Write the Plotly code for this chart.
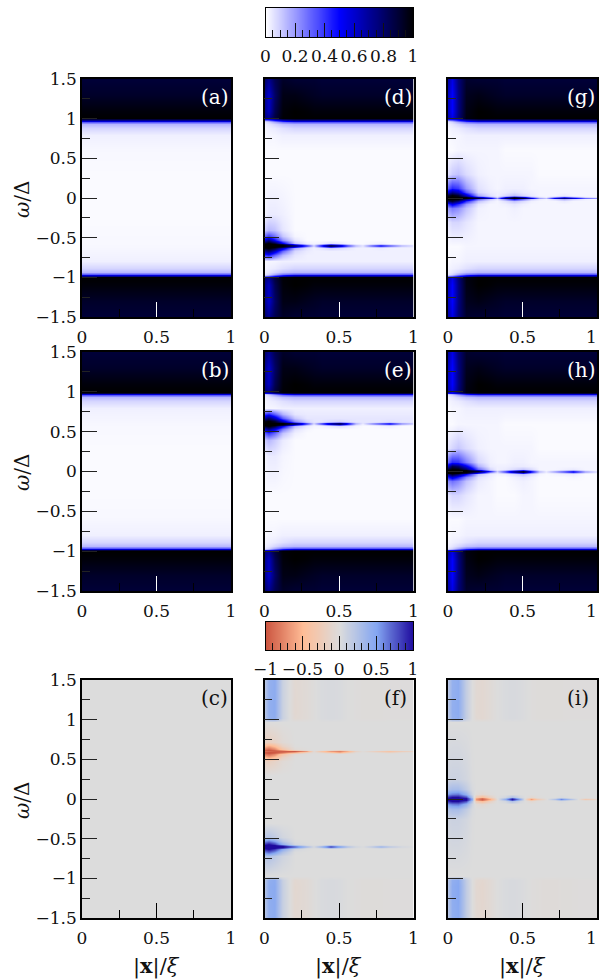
import plotly.graph_objects as go

# ---------- data (values in percent) ----------
X = [0,.03,.07,.12,.2,.28,.33,.38,.44,.5,.56,.61,.66,.72,.78,.84,.92,1]
OUTER_W = [.8,.88,.93,.96,.975,.99,1.0,1.1,1.3,1.5]
BG = [0,1]
A_W = [0,.3,.6,.8,.88,.93,.96,.975,.99,1.0,1.1,1.3,1.5]
a_half = [1,1,1.5,3,8,14,32,58,88,100,98,92,89]

outer_weak = [
 [1,2,2,3,3,3,3,3,3,3,3,3,3,3,3,3,3,3],
 [2,3,4,6,8,8,8,8,8,8,8,8,8,8,8,8,8,8],
 [3,5,8,12,14,14,14,14,14,14,14,14,14,14,14,14,14,14],
 [5,8,16,26,32,32,32,32,32,32,32,32,32,32,32,32,32,32],
 [10,16,30,46,58,58,58,58,58,58,58,58,58,58,58,58,58,58],
 [50,55,68,82,88,88,88,88,88,88,88,88,88,88,88,88,88,88],
 [76,72,88,99,100,100,100,100,100,100,100,100,100,100,100,100,100,100],
 [72,62,84,98,100,99,98,98,98,98,98,98,98,98,98,98,98,98],
 [72,60,80,96,96,94,93,92,92,92,92,92,92,92,92,92,92,92],
 [80,72,84,92,90,90,90,89,89,89,89,89,89,89,89,89,89,89],
]
outer_strong = [
 [1,2,2,3,3,3,3,3,3,3,3,3,3,3,3,3,3,3],
 [2,3,4,6,8,8,8,8,8,8,8,8,8,8,8,8,8,8],
 [3,5,8,12,14,14,14,14,14,14,14,14,14,14,14,14,14,14],
 [5,8,16,26,32,32,32,32,32,32,32,32,32,32,32,32,32,32],
 [10,16,30,46,58,58,58,58,58,58,58,58,58,58,58,58,58,58],
 [48,50,62,80,88,88,88,88,88,88,88,88,88,88,88,88,88,88],
 [66,55,76,97,100,100,100,100,100,100,100,100,100,100,100,100,100,100],
 [62,50,74,96,100,99,98,98,98,98,98,98,98,98,98,98,98,98],
 [62,50,74,94,96,94,93,92,92,92,92,92,92,92,92,92,92,92],
 [68,55,76,91,90,90,90,89,89,89,89,89,89,89,89,89,89,89],
]

d_y = [-.72,-.67,-.635,-.615,-.607,-.6,-.593,-.585,-.565,-.53,-.48,-.4,-.2,.3,.6]
d_mid = [
 [40,45,30,14,5,3,3,3,3,3,3,3,3,3,3,3,3,3],
 [70,80,60,30,8,4,3,3,3,3,3,3,3,3,3,3,3,3],
 [95,100,90,60,16,6,3,5,9,7,5,3,3,3,4,3,3,3],
 [100,100,100,88,48,14,4,20,42,28,14,6,4,9,14,9,5,4],
 [100,100,100,100,74,34,8,42,82,58,30,11,5,24,40,26,11,6],
 [90,96,100,100,95,60,20,75,100,92,62,30,14,52,70,54,32,22],
 [100,100,100,100,74,34,8,42,82,58,30,11,5,24,40,26,11,6],
 [100,100,100,88,42,12,4,16,36,24,11,4,2,7,12,7,3,2],
 [92,100,88,52,11,3,2,3,6,4,2,1,1,2,3,1,1,1],
 [60,75,50,22,5,1,1,1,1,1,1,1,1,1,1,1,1,1],
 [30,38,28,11,2,1,1,1,1,1,1,1,1,1,1,1,1,1],
 [10,14,12,5,1,1,1,1,1,1,1,1,1,1,1,1,1,1],
 [2,4,4,3,1,1,1,1,1,1,1,1,1,1,1,1,1,1],
 [1,1,1,1,1,1,1,1,1,1,1,1,1,1,1,1,1,1],
 [1,1,1,1,1,1,1,1,1,1,1,1,1,1,1,1,1,1],
]

e_y = [-.6,-.3,.2,.4,.48,.53,.565,.585,.593,.6,.607,.615,.635,.67,.72]
e_mid = [
 [1,1,1,1,1,1,1,1,1,1,1,1,1,1,1,1,1,1],
 [1,1,1,1,1,1,1,1,1,1,1,1,1,1,1,1,1,1],
 [2,4,4,2,1,1,1,1,1,1,1,1,1,1,1,1,1,1],
 [10,14,10,4,1,1,1,1,1,1,1,1,1,1,1,1,1,1],
 [32,40,30,12,3,1,1,1,1,1,1,1,1,1,1,1,1,1],
 [62,75,55,26,6,2,1,1,1,1,1,1,1,1,1,1,1,1],
 [92,100,88,52,13,4,2,2,4,6,4,2,1,1,2,3,1,1],
 [100,100,100,88,42,12,3,9,22,34,18,5,2,4,8,12,5,2],
 [100,100,100,100,76,32,6,30,60,78,44,12,3,16,28,40,16,8],
 [88,95,100,100,98,68,18,58,90,100,82,32,10,32,54,70,48,28],
 [100,100,100,100,78,34,8,32,62,80,46,14,5,18,30,42,18,10],
 [100,100,100,90,48,16,6,12,26,38,22,8,5,7,11,15,8,6],
 [95,100,90,60,22,8,5,5,7,8,6,5,5,5,5,6,5,5],
 [70,80,62,32,11,5,5,5,5,5,5,5,5,5,5,5,5,5],
 [38,45,32,15,5,4,4,4,4,4,4,4,4,4,4,4,4,4],
]

g_y = [-.6,-.3,-.12,-.07,-.035,-.015,-.007,0,.007,.015,.035,.07,.12,.3,.6]
g_mid = [
 [1,1,1,2,2,2,2,2,2,2,2,2,2,2,2,2,2,2],
 [5,8,8,5,2,2,2,2,2,2,2,2,2,2,2,2,2,2],
 [20,26,22,12,3,2,2,2,3,2,2,2,2,2,2,2,2,2],
 [40,55,42,20,5,2,2,3,5,3,2,2,2,2,2,2,2,2],
 [80,90,75,42,12,4,2,6,12,7,3,2,2,2,4,2,2,2],
 [100,100,100,75,30,10,4,22,48,28,10,4,2,8,16,8,3,2],
 [100,100,100,95,62,28,8,48,88,60,26,8,4,24,42,26,9,5],
 [90,95,100,100,88,58,20,78,100,92,58,20,12,54,76,56,30,20],
 [100,100,100,98,64,30,8,48,88,60,26,8,4,24,42,26,9,5],
 [100,100,100,85,36,12,5,22,46,28,10,4,2,8,15,8,3,2],
 [88,98,90,60,16,6,3,7,12,7,4,2,2,2,4,2,2,2],
 [58,72,62,33,8,4,3,4,6,4,3,2,2,2,2,2,2,2],
 [32,42,38,20,6,3,2,3,3,3,2,2,2,2,2,2,2,2],
 [6,10,12,7,3,2,2,2,2,2,2,1,1,1,1,1,1,1],
 [1,1,2,2,2,2,2,1,1,1,1,1,1,1,1,1,1,1],
]

h_mid = [
 [1,1,1,2,2,2,2,2,2,2,2,2,2,2,2,2,2,2],
 [5,8,8,5,2,2,1,1,1,2,2,1,1,1,1,1,1,1],
 [23,28,23,12,4,2,1,1,2,3,2,1,1,1,1,1,1,1],
 [45,58,45,23,6,3,1,1,3,5,3,1,1,1,1,2,1,1],
 [75,92,80,50,12,4,2,3,7,12,6,2,1,2,3,4,1,1],
 [100,100,100,88,45,10,4,12,28,46,20,5,2,5,10,16,5,2],
 [100,100,100,100,74,28,7,30,62,88,44,11,4,15,28,44,15,5],
 [90,96,100,100,98,68,20,58,90,100,76,24,12,34,56,74,42,22],
 [100,100,100,100,90,42,10,32,64,90,46,12,4,16,29,44,15,5],
 [100,100,100,100,62,16,5,13,30,46,21,5,2,5,10,16,5,2],
 [90,100,98,80,30,8,3,4,7,11,7,2,2,2,3,4,2,2],
 [62,85,78,55,16,4,3,3,4,4,3,2,2,2,2,2,2,2],
 [30,42,40,25,8,3,2,2,3,3,2,2,2,2,2,2,2,2],
 [5,8,11,7,3,2,2,2,2,2,2,1,1,1,1,1,1,1],
 [1,1,2,2,2,2,2,1,1,1,1,1,1,1,1,1,1,1],
]

f_y = [-1.5,-1.1,-1.02,-.97,-.72,-.67,-.635,-.615,-.607,-.6,-.593,-.585,-.565,-.53,-.48,-.3,
       .3,.48,.53,.565,.585,.593,.6,.607,.615,.635,.67,.72,.97,1.02,1.1,1.5]
f_z = [
 [20,42,45,12,-8,-5,-1,2,3,2,0,-1,-2,-2,-2,-1,-1,-1],
 [22,44,46,12,-9,-5,-1,2,3,2,0,-1,-2,-2,-2,-1,-1,-1],
 [20,42,45,11,-8,-5,-1,2,3,2,0,-1,-2,-2,-2,-1,-1,-1],
 [0,0,0,0,0,0,0,0,0,0,0,0,0,0,0,0,0,0],
 [20,25,18,8,0,0,0,0,0,0,0,0,0,0,0,0,0,0],
 [60,70,55,25,1,0,0,0,0,0,0,0,0,0,0,0,0,0],
 [90,100,85,45,6,1,0,0,0,0,0,0,0,0,0,0,0,0],
 [100,100,100,80,32,5,1,6,24,12,4,1,0,2,6,2,1,0],
 [100,100,100,100,64,24,4,30,72,44,18,5,1,12,28,14,4,1],
 [95,100,100,100,92,62,8,55,95,78,42,12,2,28,52,34,16,8],
 [100,100,100,100,64,24,4,30,72,44,18,5,1,12,28,14,4,1],
 [100,100,100,76,28,5,1,6,24,12,4,1,0,2,6,2,1,0],
 [88,98,82,40,5,1,0,0,0,0,0,0,0,0,0,0,0,0],
 [55,65,50,20,1,0,0,0,0,0,0,0,0,0,0,0,0,0],
 [18,22,16,6,0,0,0,0,0,0,0,0,0,0,0,0,0,0],
 [0,0,0,0,0,0,0,0,0,0,0,0,0,0,0,0,0,0],
 [0,0,0,0,0,0,0,0,0,0,0,0,0,0,0,0,0,0],
 [-16,-20,-15,-5,0,0,0,0,0,0,0,0,0,0,0,0,0,0],
 [-50,-62,-48,-18,-1,0,0,0,0,0,0,0,0,0,0,0,0,0],
 [-80,-90,-75,-36,-5,-1,0,0,0,0,0,0,0,0,0,0,0,0],
 [-92,-100,-92,-68,-30,-6,-1,-3,-10,-22,-8,-1,0,0,-1,-4,-1,0],
 [-95,-100,-98,-90,-68,-28,-3,-20,-45,-62,-34,-6,-1,-5,-12,-22,-7,-2],
 [-85,-90,-95,-95,-98,-65,-6,-38,-66,-78,-55,-16,-2,-15,-28,-38,-24,-14],
 [-95,-100,-98,-90,-68,-28,-3,-20,-45,-62,-34,-6,-1,-5,-12,-22,-7,-2],
 [-92,-100,-92,-68,-30,-6,-1,-3,-10,-22,-8,-1,0,0,-1,-4,-1,0],
 [-80,-90,-75,-36,-5,-1,0,0,0,0,0,0,0,0,0,0,0,0],
 [-50,-62,-48,-18,-1,0,0,0,0,0,0,0,0,0,0,0,0,0],
 [-16,-20,-15,-5,0,0,0,0,0,0,0,0,0,0,0,0,0,0],
 [0,0,0,0,0,0,0,0,0,0,0,0,0,0,0,0,0,0],
 [18,40,44,10,-7,-4,-1,2,3,2,0,-1,-2,-2,-2,-1,-1,-1],
 [20,42,45,10,-8,-4,-1,2,3,2,0,-1,-2,-2,-2,-1,-1,-1],
 [18,40,44,10,-7,-4,-1,2,3,2,0,-1,-2,-2,-2,-1,-1,-1],
]

iX = [0,.03,.07,.12,.16,.19,.23,.28,.33,.38,.43,.48,.52,.56,.6,.66,.72,.76,.82,.87,.92,.97,1]
i_y = [-1.5,-1.1,-1.02,-.97,-.25,-.12,-.06,-.025,-.01,0,.01,.025,.06,.12,.25,.97,1.02,1.1,1.5]
i_z = [
 [22,42,46,16,0,-7,-9,-5,0,2,3,2,1,-1,-2,-3,-3,-2,-2,-1,-1,-1,-1],
 [24,44,48,16,0,-8,-10,-5,0,2,3,2,1,-1,-2,-3,-3,-2,-2,-1,-1,-1,-1],
 [22,42,46,15,0,-7,-9,-5,0,2,3,2,1,-1,-2,-3,-3,-2,-2,-1,-1,-1,-1],
 [0,0,0,0,0,0,0,0,0,0,0,0,0,0,0,0,0,0,0,0,0,0,0],
 [8,10,10,6,1,0,0,0,0,0,0,0,0,0,0,0,0,0,0,0,0,0,0],
 [25,30,30,16,3,0,0,0,0,0,0,0,0,0,0,0,0,0,0,0,0,0,0],
 [55,62,65,40,8,-4,-8,-2,0,0,0,0,0,0,0,0,0,0,0,0,0,0,0],
 [90,100,100,80,22,-28,-48,-18,0,6,26,6,0,-8,-2,0,0,3,0,0,0,0,0],
 [100,100,100,98,38,-58,-85,-42,-1,24,78,26,-3,-36,-12,-1,8,28,8,0,-8,-5,-1],
 [92,100,100,100,45,-68,-95,-58,-4,42,98,46,-8,-66,-30,-3,26,60,28,0,-30,-20,-8],
 [100,100,100,98,38,-58,-85,-42,-1,24,78,26,-3,-36,-12,-1,8,28,8,0,-8,-5,-1],
 [90,100,100,80,22,-28,-48,-18,0,6,26,6,0,-8,-2,0,0,3,0,0,0,0,0],
 [55,62,65,40,8,-4,-8,-2,0,0,0,0,0,0,0,0,0,0,0,0,0,0,0],
 [25,30,30,16,3,0,0,0,0,0,0,0,0,0,0,0,0,0,0,0,0,0,0],
 [8,10,10,6,1,0,0,0,0,0,0,0,0,0,0,0,0,0,0,0,0,0,0],
 [0,0,0,0,0,0,0,0,0,0,0,0,0,0,0,0,0,0,0,0,0,0,0],
 [20,40,44,14,0,-6,-8,-4,0,2,3,2,1,-1,-2,-2,-2,-2,-1,-1,-1,-1,-1],
 [22,42,45,14,0,-7,-8,-4,0,2,3,2,1,-1,-2,-2,-2,-2,-1,-1,-1,-1,-1],
 [20,40,44,14,0,-6,-8,-4,0,2,3,2,1,-1,-2,-2,-2,-2,-1,-1,-1,-1,-1],
]

c_z = [[0,0],[0,0]]
cb1_vals = [0,.05,.1,.15,.2,.25,.3,.35,.4,.45,.5,.55,.6,.65,.7,.75,.8,.85,.9,.95,1]
cb2_vals = [-1,-.9,-.8,-.7,-.6,-.5,-.4,-.3,-.2,-.1,0,.1,.2,.3,.4,.5,.6,.7,.8,.9,1]
cb1_ticks = [0,.2,.4,.6,.8,1]
cb2_ticks = [-1,-.5,0,.5,1]
x_tick_vals = [0,.5,1]
x_tick_text = ["0","0.5","1"]
panel_letters = ["(a)","(b)","(c)","(d)","(e)","(f)","(g)","(h)","(i)"]

SEQ = [[0,"#ffffff"],[.5,"#0000ff"],[1,"#000000"]]
DIV = [[0,"#cc5540"],[.25,"#ffbd96"],[.5,"#dcdcdc"],[.75,"#84a6f2"],[1,"#1e0a9e"]]
FONT = "DejaVu Serif"
TSIZE = 17
W, H = 600, 979
COLS = [(82,231),(264.5,413.5),(448,597)]
ROWS = [(79,317),(352,591),(680,918)]

def outer_grid(outer, mid):
    return [r for r in outer[::-1]] + mid + [r for r in outer]
def outer_y(mid_y):
    return [-w for w in OUTER_W[::-1]] + mid_y + OUTER_W

a_y = [-w for w in A_W[:0:-1]] + A_W
a_rows = a_half[:0:-1] + a_half
a_grid = [[v, v] for v in a_rows]

panels = [
 (BG, a_y, a_grid, SEQ), (BG, a_y, a_grid, SEQ), (BG, [-1.5,1.5], c_z, DIV),
 (X, outer_y(d_y), outer_grid(outer_weak, d_mid), SEQ),
 (X, outer_y(e_y), outer_grid(outer_weak, e_mid), SEQ),
 (X, f_y, f_z, DIV),
 (X, outer_y(g_y), outer_grid(outer_strong, g_mid), SEQ),
 (X, outer_y(g_y), outer_grid(outer_strong, h_mid), SEQ),
 (iX, i_y, i_z, DIV),
]

fig = go.Figure()
layout = {}
annots = []
for n, (px, py, pz, cs) in enumerate(panels):
    c, r = n // 3, n % 3
    k = n + 1
    sfx = "" if k == 1 else str(k)
    z = [[v / 100 for v in row] for row in pz]
    fig.add_trace(go.Heatmap(x=px, y=py, z=z, colorscale=cs, zmin=0 if cs is SEQ else -1, zmax=1,
                             zsmooth="best", showscale=False, xaxis="x" + sfx, yaxis="y" + sfx))
    x0, x1 = COLS[c]; y0, y1 = ROWS[r]
    xtick = "white" if r < 2 else "black"
    # the last column's "1" sits just inside the page edge, so it is placed as its own text
    ticktext = x_tick_text if c < 2 else x_tick_text[:2] + [""]
    if c == 2:
        annots.append(dict(text=x_tick_text[2], x=599 / W, y=1 - (y1 + 19.5) / H, xref="paper", yref="paper",
                           xanchor="right", yanchor="middle", showarrow=False,
                           font=dict(family=FONT, size=TSIZE, color="#111")))
    layout["xaxis" + sfx] = dict(
        domain=[x0 / W, x1 / W], anchor="y" + sfx, range=[0, 1], tickmode="array", tickvals=x_tick_vals, ticktext=ticktext,
        automargin=False, ticklabeloverflow="allow",
        ticks="inside", ticklen=15, tickwidth=1, tickcolor=xtick, showgrid=False, zeroline=False,
        showline=True, linecolor="black", linewidth=1.5, mirror=True, ticklabelstandoff=4,
        minor=dict(ticks="inside", ticklen=8, tickwidth=1, tickcolor="black", tick0=0, dtick=.25, showgrid=False),
        tickfont=dict(family=FONT, size=TSIZE, color="#111"))
    layout["yaxis" + sfx] = dict(
        domain=[1 - y1 / H, 1 - y0 / H], anchor="x" + sfx, range=[-1.5, 1.5], tickmode="linear", tick0=-1.5, dtick=.5,
        automargin=False,
        ticks="inside", ticklen=15, tickwidth=1, tickcolor="#222", showgrid=False, zeroline=False,
        showline=True, linecolor="black", linewidth=1.5, mirror=True, showticklabels=(c == 0), ticklabelstandoff=0,
        minor=dict(ticks="inside", ticklen=8, tickwidth=1, tickcolor="#222", tick0=0, dtick=.25, showgrid=False),
        tickfont=dict(family=FONT, size=TSIZE, color="#111"))
    annots.append(dict(text=panel_letters[n], x=(x0 + 117) / W, y=1 - (y0 + 18) / H, xref="paper", yref="paper",
                       xanchor="left", yanchor="middle", showarrow=False,
                       font=dict(family=FONT, size=20, color="white" if r < 2 else "#111")))

for k, vals, cs, zmin, ticks, dminor, (ytop, ybot) in [
    (10, cb1_vals, SEQ, 0, cb1_ticks, .05, (8, 37)),
    (11, cb2_vals, DIV, -1, cb2_ticks, .1, (622, 650))]:
    fig.add_trace(go.Heatmap(x=vals, y=[0, 1], z=[vals, vals], colorscale=cs, zmin=zmin, zmax=1, zsmooth="best",
                             showscale=False, xaxis=f"x{k}", yaxis=f"y{k}"))
    layout[f"xaxis{k}"] = dict(
        domain=[265.5 / W, 413 / W], anchor=f"y{k}", range=[vals[0], vals[-1]], tickmode="array", tickvals=ticks,
        automargin=False,
        ticks="inside", ticklen=14, tickwidth=1, tickcolor="#111", showgrid=False, zeroline=False,
        showline=True, linecolor="black", linewidth=1.2, mirror=True, ticklabelstandoff=3,
        minor=dict(ticks="inside", ticklen=7, tickwidth=1, tickcolor="#111", tick0=0, dtick=dminor, showgrid=False),
        tickfont=dict(family=FONT, size=TSIZE, color="#111"))
    layout[f"yaxis{k}"] = dict(domain=[1 - ybot / H, 1 - ytop / H], anchor=f"x{k}", range=[0, 1], showticklabels=False,
                               automargin=False,
                               ticks="", showgrid=False, zeroline=False, showline=True, linecolor="black",
                               linewidth=1.2, mirror=True)

for r, cy in enumerate([199, 472, 800]):
    annots.append(dict(text="<i>ω</i>/Δ", x=22 / W, y=1 - cy / H, xref="paper", yref="paper", textangle=-90,
                       showarrow=False, xanchor="center", yanchor="middle",
                       font=dict(family=FONT, size=20, color="#111")))
for cx in [156, 339, 522]:
    annots.append(dict(text="|<b>x</b>|/<i>ξ</i>", x=cx / W, y=1 - 966 / H, xref="paper", yref="paper",
                       showarrow=False, xanchor="center", yanchor="middle",
                       font=dict(family=FONT, size=21, color="#111")))

fig.update_layout(width=W, height=H, margin=dict(l=0, r=0, t=0, b=0, autoexpand=False), paper_bgcolor="white", plot_bgcolor="white",
                  showlegend=False, annotations=annots, **layout)
fig.write_html("out.html", config={"displayModeBar": False},
               post_script="document.body.style.margin='0';document.documentElement.style.overflow='hidden';")
